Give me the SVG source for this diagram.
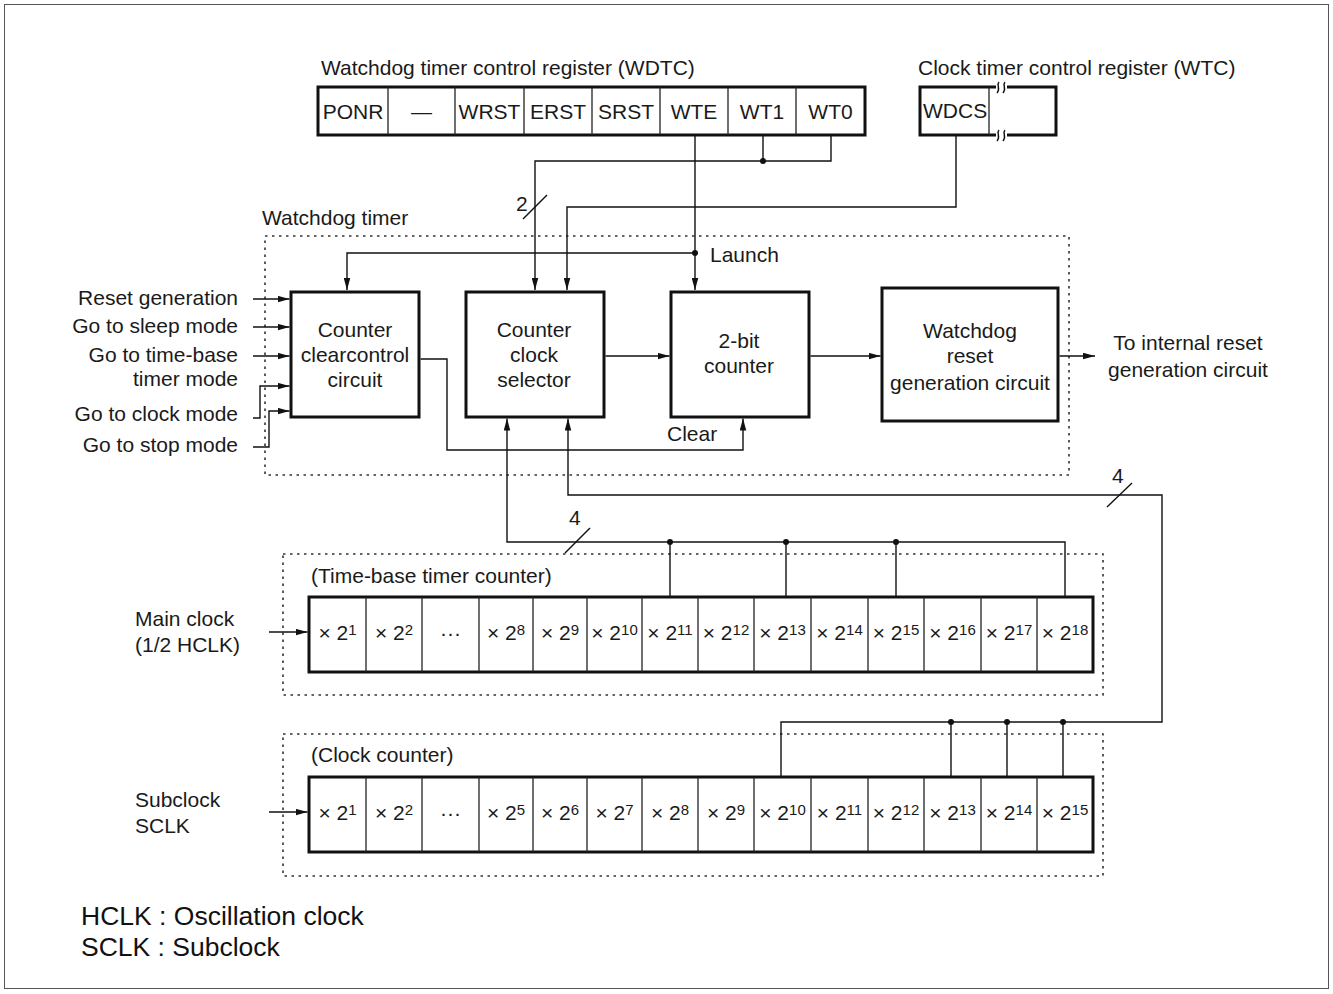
<svg xmlns="http://www.w3.org/2000/svg" width="1333" height="994" viewBox="0 0 1333 994">
<style>
.t{font-family:"Liberation Sans",Arial,Helvetica,sans-serif;font-size:21px;fill:#1a1a1a}
.m{text-anchor:middle}
.e{text-anchor:end}
.lg{font-size:26.5px;fill:#111}
.sup{font-size:15px}
.box{fill:#fff;stroke:#111;stroke-width:3}
.cell{fill:none;stroke:#222;stroke-width:1.3}
.ln{fill:none;stroke:#111;stroke-width:1.4}
.dot{fill:#111}
.dash{fill:none;stroke:#333;stroke-width:1.6;stroke-dasharray:2.5 4.5}
</style>
<defs>
<marker id="ah" viewBox="0 0 11 6" refX="11" refY="3" markerWidth="12" markerHeight="7" orient="auto" markerUnits="userSpaceOnUse"><path d="M0,0 L11,3 L0,6 z" fill="#111"/></marker>
</defs>
<rect x="0" y="0" width="1333" height="994" fill="#fff"/>
<rect x="4.5" y="4.5" width="1324" height="984" fill="none" stroke="#555" stroke-width="1"/>

<g id="regions">
<rect class="dash" x="265" y="236" width="804" height="239"/>
<text class="t" x="262" y="225">Watchdog timer</text>
<rect class="dash" x="283" y="554" width="820" height="141"/>
<text class="t" x="311" y="583">(Time-base timer counter)</text>
<rect class="dash" x="283" y="734" width="820" height="142"/>
<text class="t" x="311" y="762">(Clock counter)</text>
</g>

<g id="connectors">
<polyline class="ln" points="763,135 763,161"/>
<polyline class="ln" points="831,135 831,161 535,161 535,290" marker-end="url(#ah)"/>
<circle class="dot" cx="763" cy="161" r="3"/>
<line class="ln" x1="523" y1="219" x2="547" y2="195"/>
<text class="t" x="516" y="211">2</text>
<polyline class="ln" points="695,135 695,290" marker-end="url(#ah)"/>
<polyline class="ln" points="695,253 347,253 347,290" marker-end="url(#ah)"/>
<circle class="dot" cx="695" cy="253" r="3"/>
<text class="t" x="710" y="262">Launch</text>
<polyline class="ln" points="956,135 956,207 567,207 567,290" marker-end="url(#ah)"/>
<line class="ln" x1="253" y1="299" x2="289.5" y2="299" marker-end="url(#ah)"/>
<line class="ln" x1="253" y1="327" x2="289.5" y2="327" marker-end="url(#ah)"/>
<line class="ln" x1="253" y1="356" x2="289.5" y2="356" marker-end="url(#ah)"/>
<polyline class="ln" points="253,418 260,418 260,386 289.5,386" marker-end="url(#ah)"/>
<polyline class="ln" points="253,447 269,447 269,411 289.5,411" marker-end="url(#ah)"/>
<polyline class="ln" points="420.5,359 447,359 447,450 743,450 743,418.5" marker-end="url(#ah)"/>
<text class="t" x="667" y="441">Clear</text>
<line class="ln" x1="605.5" y1="356" x2="669.5" y2="356" marker-end="url(#ah)"/>
<line class="ln" x1="810.5" y1="356" x2="880.5" y2="356" marker-end="url(#ah)"/>
<line class="ln" x1="1059.5" y1="356" x2="1095" y2="356" marker-end="url(#ah)"/>
<polyline class="ln" points="1065,597 1065,542 507,542 507,418.5" marker-end="url(#ah)"/>
<line class="ln" x1="670" y1="542" x2="670" y2="597"/>
<line class="ln" x1="786" y1="542" x2="786" y2="597"/>
<line class="ln" x1="896" y1="542" x2="896" y2="597"/>
<circle class="dot" cx="670" cy="542" r="3"/>
<circle class="dot" cx="786" cy="542" r="3"/>
<circle class="dot" cx="896" cy="542" r="3"/>
<line class="ln" x1="565" y1="553" x2="590" y2="528"/>
<text class="t" x="569" y="525">4</text>
<polyline class="ln" points="781,777 781,722 1162,722 1162,495 568,495 568,418.5" marker-end="url(#ah)"/>
<line class="ln" x1="951" y1="722" x2="951" y2="777"/>
<line class="ln" x1="1007" y1="722" x2="1007" y2="777"/>
<line class="ln" x1="1063" y1="722" x2="1063" y2="777"/>
<circle class="dot" cx="951" cy="722" r="3"/>
<circle class="dot" cx="1007" cy="722" r="3"/>
<circle class="dot" cx="1063" cy="722" r="3"/>
<line class="ln" x1="1107" y1="507" x2="1132" y2="483"/>
<text class="t" x="1112" y="483">4</text>
<line class="ln" x1="269" y1="632" x2="307.5" y2="632" marker-end="url(#ah)"/>
<line class="ln" x1="269" y1="812" x2="307.5" y2="812" marker-end="url(#ah)"/>
</g>

<g id="wdtc">
<text class="t" x="321" y="75">Watchdog timer control register (WDTC)</text>
<rect class="box" x="318" y="87" width="547" height="48"/>
<path class="cell" d="M388,87V135M455,87V135M524,87V135M592,87V135M660,87V135M728,87V135M796,87V135"/>
<text class="t m" x="353" y="119">PONR</text>
<text class="t m" x="421.5" y="119">—</text>
<text class="t m" x="489.5" y="119">WRST</text>
<text class="t m" x="558" y="119">ERST</text>
<text class="t m" x="626" y="119">SRST</text>
<text class="t m" x="694" y="119">WTE</text>
<text class="t m" x="762" y="119">WT1</text>
<text class="t m" x="830.5" y="119">WT0</text>
</g>

<g id="wtc">
<text class="t" x="918" y="75">Clock timer control register (WTC)</text>
<rect class="box" x="920" y="87" width="136" height="48"/>
<line class="cell" x1="989" y1="87" x2="989" y2="135"/>
<rect x="996" y="84" width="11" height="6" fill="#fff"/>
<rect x="996" y="132" width="11" height="6" fill="#fff"/>
<path class="ln" stroke-width="1.2" d="M999,82 C996,85 1001,89 997,93 M1005,82 C1002,85 1007,89 1003,93 M999,130 C996,133 1001,137 997,141 M1005,130 C1002,133 1007,137 1003,141"/>
<text class="t" x="923" y="118">WDCS</text>
</g>

<g id="inputs">
<text class="t e" x="238" y="305">Reset generation</text>
<text class="t e" x="238" y="333">Go to sleep mode</text>
<text class="t e" x="238" y="362">Go to time-base</text>
<text class="t e" x="238" y="386">timer mode</text>
<text class="t e" x="238" y="421">Go to clock mode</text>
<text class="t e" x="238" y="452">Go to stop mode</text>
</g>

<g id="ccc">
<rect class="box" x="291" y="292" width="128" height="125"/>
<text class="t m" x="355" y="337">Counter</text>
<text class="t m" x="355" y="362">clearcontrol</text>
<text class="t m" x="355" y="387">circuit</text>
</g>

<g id="ccs">
<rect class="box" x="466" y="292" width="138" height="125"/>
<text class="t m" x="534" y="337">Counter</text>
<text class="t m" x="534" y="362">clock</text>
<text class="t m" x="534" y="387">selector</text>
</g>

<g id="bit2">
<rect class="box" x="671" y="292" width="138" height="125"/>
<text class="t m" x="739" y="348">2-bit</text>
<text class="t m" x="739" y="373">counter</text>
</g>

<g id="wrg">
<rect class="box" x="882" y="288" width="176" height="133"/>
<text class="t m" x="970" y="338">Watchdog</text>
<text class="t m" x="970" y="363">reset</text>
<text class="t m" x="970" y="390">generation circuit</text>
</g>

<g id="output">
<text class="t m" x="1188" y="350">To internal reset</text>
<text class="t m" x="1188" y="377">generation circuit</text>
</g>

<g id="tbc">
<text class="t" x="135" y="626">Main clock</text>
<text class="t" x="135" y="652">(1/2 HCLK)</text>
<rect class="box" x="309" y="597" width="784" height="75"/>
<path class="cell" d="M366,597V672M422,597V672M479,597V672M533,597V672M587,597V672M642,597V672M698,597V672M754,597V672M811,597V672M868,597V672M924,597V672M981,597V672M1037,597V672"/>
<text class="t m" x="337.5" y="640">× 2<tspan class="sup" dy="-5">1</tspan></text>
<text class="t m" x="394" y="640">× 2<tspan class="sup" dy="-5">2</tspan></text>
<text class="t m" x="450.5" y="640">···</text>
<text class="t m" x="506" y="640">× 2<tspan class="sup" dy="-5">8</tspan></text>
<text class="t m" x="560" y="640">× 2<tspan class="sup" dy="-5">9</tspan></text>
<text class="t m" x="614.5" y="640">× 2<tspan class="sup" dy="-5">10</tspan></text>
<text class="t m" x="670" y="640">× 2<tspan class="sup" dy="-5">11</tspan></text>
<text class="t m" x="726" y="640">× 2<tspan class="sup" dy="-5">12</tspan></text>
<text class="t m" x="782.5" y="640">× 2<tspan class="sup" dy="-5">13</tspan></text>
<text class="t m" x="839.5" y="640">× 2<tspan class="sup" dy="-5">14</tspan></text>
<text class="t m" x="896" y="640">× 2<tspan class="sup" dy="-5">15</tspan></text>
<text class="t m" x="952.5" y="640">× 2<tspan class="sup" dy="-5">16</tspan></text>
<text class="t m" x="1009" y="640">× 2<tspan class="sup" dy="-5">17</tspan></text>
<text class="t m" x="1065" y="640">× 2<tspan class="sup" dy="-5">18</tspan></text>
</g>

<g id="cc">
<text class="t" x="135" y="807">Subclock</text>
<text class="t" x="135" y="833">SCLK</text>
<rect class="box" x="309" y="777" width="784" height="75"/>
<path class="cell" d="M366,777V852M422,777V852M479,777V852M533,777V852M587,777V852M642,777V852M698,777V852M754,777V852M811,777V852M868,777V852M924,777V852M981,777V852M1037,777V852"/>
<text class="t m" x="337.5" y="820">× 2<tspan class="sup" dy="-5">1</tspan></text>
<text class="t m" x="394" y="820">× 2<tspan class="sup" dy="-5">2</tspan></text>
<text class="t m" x="450.5" y="820">···</text>
<text class="t m" x="506" y="820">× 2<tspan class="sup" dy="-5">5</tspan></text>
<text class="t m" x="560" y="820">× 2<tspan class="sup" dy="-5">6</tspan></text>
<text class="t m" x="614.5" y="820">× 2<tspan class="sup" dy="-5">7</tspan></text>
<text class="t m" x="670" y="820">× 2<tspan class="sup" dy="-5">8</tspan></text>
<text class="t m" x="726" y="820">× 2<tspan class="sup" dy="-5">9</tspan></text>
<text class="t m" x="782.5" y="820">× 2<tspan class="sup" dy="-5">10</tspan></text>
<text class="t m" x="839.5" y="820">× 2<tspan class="sup" dy="-5">11</tspan></text>
<text class="t m" x="896" y="820">× 2<tspan class="sup" dy="-5">12</tspan></text>
<text class="t m" x="952.5" y="820">× 2<tspan class="sup" dy="-5">13</tspan></text>
<text class="t m" x="1009" y="820">× 2<tspan class="sup" dy="-5">14</tspan></text>
<text class="t m" x="1065" y="820">× 2<tspan class="sup" dy="-5">15</tspan></text>
</g>

<g id="legend">
<text class="t lg" x="81" y="925">HCLK : Oscillation clock</text>
<text class="t lg" x="81" y="956">SCLK : Subclock</text>
</g>
</svg>
